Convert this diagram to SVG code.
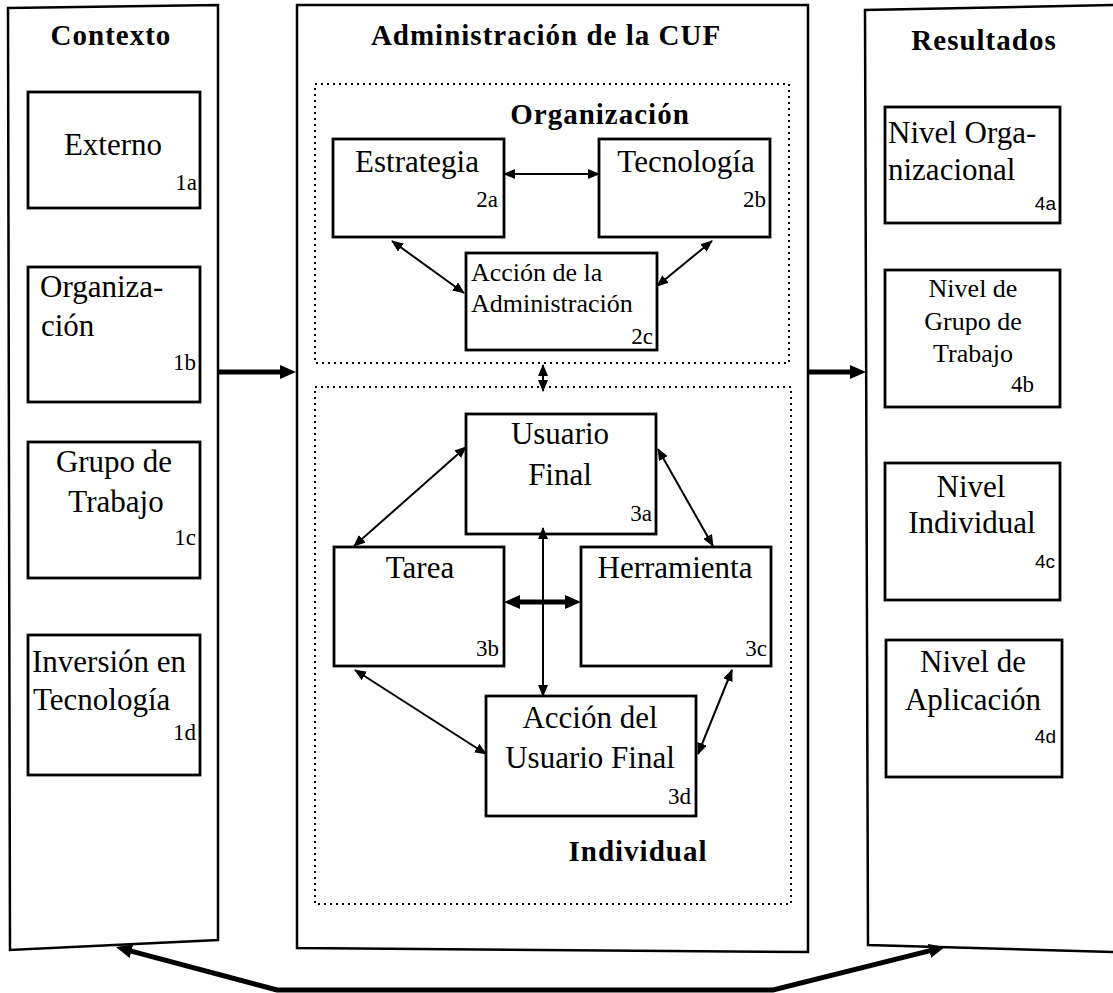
<svg xmlns="http://www.w3.org/2000/svg" width="1113" height="993" viewBox="0 0 1113 993">
<defs>
<marker id="ah" viewBox="0 0 12 10" refX="11" refY="5" markerWidth="12" markerHeight="10" markerUnits="userSpaceOnUse" orient="auto-start-reverse"><path d="M0,0 L12,5 L0,10 z" fill="#000"/></marker>
<marker id="ahb" viewBox="0 0 16 14" refX="8" refY="7" markerWidth="16" markerHeight="14" markerUnits="userSpaceOnUse" orient="auto-start-reverse"><path d="M0,0 L16,7 L0,14 z" fill="#000"/></marker>
</defs>
<style>
.panel{fill:none;stroke:#000;stroke-width:2.5}
.box{fill:#fff;stroke:#000;stroke-width:2.8}
.dot{fill:none;stroke:#000;stroke-width:2;stroke-dasharray:2 4}
.t{font-family:"Liberation Serif","Times New Roman",serif;font-size:31px;fill:#000}
.ts{font-family:"Liberation Serif","Times New Roman",serif;font-size:26px;fill:#000}
.h{font-family:"Liberation Serif","Times New Roman",serif;font-size:29px;font-weight:bold;letter-spacing:1px;fill:#000}
.n{font-family:"Liberation Serif","Times New Roman",serif;font-size:23px;fill:#000;text-anchor:end}
.ns{font-family:"Liberation Sans",Arial,sans-serif;font-size:19px;fill:#000;text-anchor:end}
.c{text-anchor:middle}
.thin{fill:none;stroke:#000;stroke-width:2;marker-start:url(#ah);marker-end:url(#ah)}
.thick{fill:none;stroke:#000;stroke-width:5}
</style>

<g id="contexto">
<path class="panel" d="M8,8 L218,5 L218,940 L10,950 Z"/>
<text class="h c" x="111" y="45">Contexto</text>
</g>
<g id="n1a">
<rect class="box" x="28" y="92" width="172" height="116"/>
<text class="t c" x="113" y="155">Externo</text>
<text class="n" x="197" y="190">1a</text>
</g>
<g id="n1b">
<rect class="box" x="28" y="267" width="172" height="135"/>
<text class="t" x="40" y="297">Organiza-</text>
<text class="t" x="41" y="336">ción</text>
<text class="n" x="196" y="370">1b</text>
</g>
<g id="n1c">
<rect class="box" x="28" y="442" width="172" height="136"/>
<text class="t c" x="114" y="472">Grupo de</text>
<text class="t c" x="116" y="512">Trabajo</text>
<text class="n" x="196" y="545">1c</text>
</g>
<g id="n1d">
<rect class="box" x="28" y="635" width="172" height="140"/>
<text class="t" x="32" y="672">Inversión en</text>
<text class="t" x="33" y="710">Tecnología</text>
<text class="n" x="196" y="740">1d</text>
</g>

<g id="admin">
<path class="panel" d="M297,5 L808,5 L808,952 L297,948 Z"/>
<text class="h c" x="546" y="45">Administración de la CUF</text>
</g>
<g id="organizacion">
<rect class="dot" x="315" y="84" width="474" height="279"/>
<text class="h c" x="600" y="124">Organización</text>
</g>
<g id="n2a">
<rect class="box" x="333" y="139" width="171" height="98"/>
<text class="t c" x="417" y="172">Estrategia</text>
<text class="n" x="498" y="207">2a</text>
</g>
<g id="n2b">
<rect class="box" x="599" y="139" width="171" height="98"/>
<text class="t c" x="686" y="172">Tecnología</text>
<text class="n" x="766" y="207">2b</text>
</g>
<g id="n2c">
<rect class="box" x="466" y="253" width="191" height="97"/>
<text class="ts" x="471" y="281">Acción de la</text>
<text class="ts" x="471" y="312">Administración</text>
<text class="n" x="653" y="344">2c</text>
</g>
<g id="individual">
<rect class="dot" x="315" y="387" width="476" height="517"/>
<text class="h c" x="638" y="861">Individual</text>
</g>
<g id="n3a">
<rect class="box" x="466" y="414" width="190" height="120"/>
<text class="t c" x="560" y="444">Usuario</text>
<text class="t c" x="560" y="485">Final</text>
<text class="n" x="652" y="521">3a</text>
</g>
<g id="n3b">
<rect class="box" x="334" y="547" width="170" height="119"/>
<text class="t c" x="420" y="578">Tarea</text>
<text class="n" x="499" y="656">3b</text>
</g>
<g id="n3c">
<rect class="box" x="581" y="547" width="190" height="119"/>
<text class="t c" x="675" y="578">Herramienta</text>
<text class="n" x="767" y="656">3c</text>
</g>
<g id="n3d">
<rect class="box" x="486" y="696" width="210" height="120"/>
<text class="t c" x="590" y="728">Acción del</text>
<text class="t c" x="590" y="768">Usuario Final</text>
<text class="n" x="691" y="804">3d</text>
</g>

<g id="resultados">
<path class="panel" d="M1113,5 L865,10 L868,945 L1113,952"/>
<text class="h c" x="984" y="50">Resultados</text>
</g>
<g id="n4a">
<rect class="box" x="885" y="107" width="175" height="116"/>
<text class="t" x="888" y="143">Nivel Orga-</text>
<text class="t" x="888" y="180">nizacional</text>
<text class="ns" x="1056" y="210">4a</text>
</g>
<g id="n4b">
<rect class="box" x="885" y="270" width="175" height="137"/>
<text class="ts c" x="973" y="297">Nivel de</text>
<text class="ts c" x="973" y="330">Grupo de</text>
<text class="ts c" x="973" y="362">Trabajo</text>
<text class="n" x="1034" y="392">4b</text>
</g>
<g id="n4c">
<rect class="box" x="885" y="463" width="175" height="137"/>
<text class="t c" x="971" y="497">Nivel</text>
<text class="t c" x="972" y="533">Individual</text>
<text class="ns" x="1055" y="568">4c</text>
</g>
<g id="n4d">
<rect class="box" x="886" y="640" width="176" height="137"/>
<text class="t c" x="973" y="672">Nivel de</text>
<text class="t c" x="973" y="710">Aplicación</text>
<text class="ns" x="1056" y="743">4d</text>
</g>

<g id="connectors">
<line class="thin" x1="504" y1="174" x2="599" y2="174"/>
<line class="thin" x1="392" y1="241" x2="464" y2="293"/>
<line class="thin" x1="712" y1="241" x2="657" y2="286"/>
<line class="thin" x1="543" y1="365" x2="543" y2="391"/>
<line class="thin" x1="466" y1="447" x2="354" y2="546"/>
<line class="thin" x1="658" y1="449" x2="713" y2="546"/>
<line class="thin" x1="543" y1="528" x2="543" y2="696"/>
<line class="thin" x1="355" y1="670" x2="486" y2="754"/>
<line class="thin" x1="732" y1="670" x2="698" y2="754"/>
<line class="thick" x1="512" y1="602" x2="573" y2="602" marker-start="url(#ahb)" marker-end="url(#ahb)"/>
<line class="thick" x1="218" y1="372" x2="288" y2="372" marker-end="url(#ahb)"/>
<line class="thick" x1="808" y1="372" x2="858" y2="372" marker-end="url(#ahb)"/>
<polyline class="thick" points="123.7,949.1 277,990 773,990 937.2,948.9" marker-start="url(#ahb)" marker-end="url(#ahb)"/>
</g>
</svg>
